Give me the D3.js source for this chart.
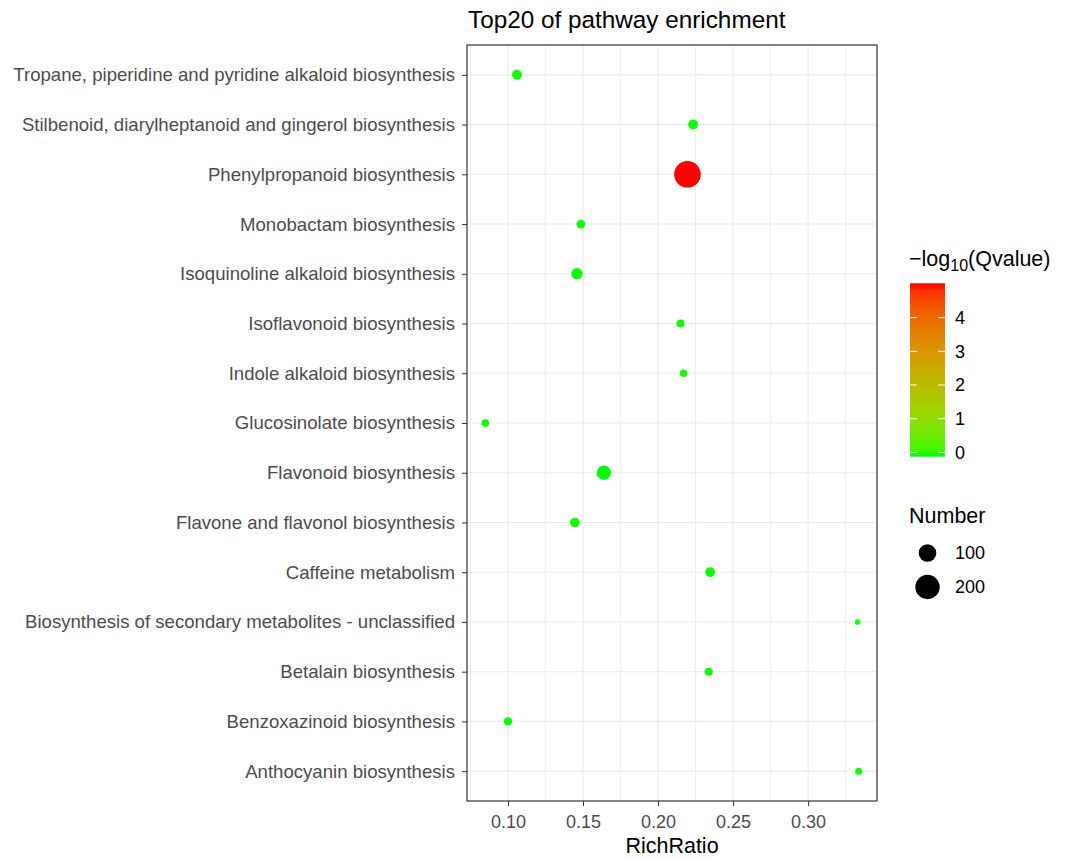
<!DOCTYPE html>
<html lang="en">
<head>
  <meta charset="UTF-8">
  <title>Top20 of pathway enrichment</title>
  <script src="https://d3js.org/d3.v7.min.js"></script>
  <style>
    body { margin: 0; background: #fff; }
    text { font-family: "Liberation Sans", Arial, sans-serif; }
    .grid line { stroke: #ebebeb; stroke-width: 1.1px; }
    .axis text { fill: #4d4d4d; font-size: 18.6px; }
    .axis line { stroke: #333; }
  </style>
</head>
<body>
  <svg width="1066" height="859"></svg>
  <script>
    // pathways, bottom to top as in the chart
    const pathways = [
      "Anthocyanin biosynthesis",
      "Benzoxazinoid biosynthesis",
      "Betalain biosynthesis",
      "Biosynthesis of secondary metabolites - unclassified",
      "Caffeine metabolism",
      "Flavone and flavonol biosynthesis",
      "Flavonoid biosynthesis",
      "Glucosinolate biosynthesis",
      "Indole alkaloid biosynthesis",
      "Isoflavonoid biosynthesis",
      "Isoquinoline alkaloid biosynthesis",
      "Monobactam biosynthesis",
      "Phenylpropanoid biosynthesis",
      "Stilbenoid, diarylheptanoid and gingerol biosynthesis",
      "Tropane, piperidine and pyridine alkaloid biosynthesis"
    ];
    const richRatio = [0.3337, 0.100, 0.2338, 0.333, 0.2347, 0.1446, 0.1639, 0.0849, 0.217, 0.215, 0.146, 0.1486, 0.2196, 0.2234, 0.106];
    const number = [32, 34, 34, 31, 39, 39, 68, 33, 33, 34, 47, 36, 242, 40, 40];
    const qvalue = [0.02, 0.01, 0.02, 0.03, 0.01, 0.02, 0.00, 0.02, 0.03, 0.02, 0.01, 0.02, 4.89, 0.01, 0.02];
    const xTicks = [0.10, 0.15, 0.20, 0.25, 0.30];
    const colorTicks = [0, 1, 2, 3, 4];
    const sizeLegend = [100, 200];

    const svg = d3.select("svg");
    const pLeft = 467, pRight = 877, pTop = 45, pBottom = 801;

    const x = d3.scaleLinear().domain([0.0727, 0.3459]).range([pLeft, pRight]);
    const y = d3.scalePoint().domain(pathways).range([pBottom, pTop]).padding(0.6);

    const qExt = [d3.min(qvalue), d3.max(qvalue)];
    const color = d3.scaleLinear().domain(qExt).range(["#00ff00", "#ff0000"]).interpolate(d3.interpolateLab);

    // ggplot-like area scale: radius grows with sqrt of rescaled count
    const nExt = [d3.min(number), d3.max(number)];
    const frac = d3.scaleLinear().domain(nExt).range([0, 1]);
    const rad = n => 2.8 + 10.5 * Math.sqrt(Math.max(0, frac(n)));

    // grid
    const grid = svg.append("g").attr("class", "grid");
    const minor = xTicks.map(t => t - 0.025).concat([0.325]);
    grid.selectAll(".minor").data(minor).enter().append("line")
      .attr("x1", d => x(d)).attr("x2", d => x(d)).attr("y1", pTop).attr("y2", pBottom)
      .style("stroke-width", "0.8px");
    grid.selectAll(".major").data(xTicks).enter().append("line")
      .attr("x1", d => x(d)).attr("x2", d => x(d)).attr("y1", pTop).attr("y2", pBottom);
    grid.selectAll(".hy").data(pathways).enter().append("line")
      .attr("x1", pLeft).attr("x2", pRight).attr("y1", d => y(d)).attr("y2", d => y(d));

    // points
    const rows = pathways.map((p, i) => ({ p, r: richRatio[i], n: number[i], q: qvalue[i] }));
    svg.append("g").selectAll("circle").data(rows).enter().append("circle")
      .attr("cx", d => x(d.r)).attr("cy", d => y(d.p))
      .attr("r", d => rad(d.n))
      .attr("fill", d => color(d.q));

    // panel border
    svg.append("rect").attr("x", pLeft).attr("y", pTop)
      .attr("width", pRight - pLeft).attr("height", pBottom - pTop)
      .attr("fill", "none").attr("stroke", "#333").attr("stroke-width", 1.2);

    // axes
    const xAxis = svg.append("g").attr("class", "axis")
      .attr("transform", `translate(0,${pBottom})`)
      .call(d3.axisBottom(x).tickValues(xTicks).tickFormat(d3.format(".2f")).tickSize(5).tickPadding(9));
    xAxis.select(".domain").remove();
    xAxis.selectAll("text").style("font-size", "18px");

    const yAxis = svg.append("g").attr("class", "axis")
      .attr("transform", `translate(${pLeft},0)`)
      .call(d3.axisLeft(y).tickSize(5).tickPadding(7));
    yAxis.select(".domain").remove();

    svg.append("text").attr("x", pLeft + 1).attr("y", 28)
      .style("font-size", "24.3px").style("fill", "#000").text("Top20 of pathway enrichment");
    svg.append("text").attr("x", (pLeft + pRight) / 2).attr("y", 853)
      .attr("text-anchor", "middle").style("font-size", "21.5px").text("RichRatio");

    // colour legend
    const lg = svg.append("g");
    const t1 = lg.append("text").attr("x", 909).attr("y", 266).style("font-size", "21.5px");
    t1.append("tspan").text("\u2212log");
    t1.append("tspan").attr("dy", 5).style("font-size", "16px").text("10");
    t1.append("tspan").attr("dy", -5).text("(Qvalue)");

    const barTop = 283.3, barBottom = 456.7, barX = 910, barW = 35;
    const half = (barBottom - barTop) / 40;
    const cy = d3.scaleLinear().domain(qExt).range([barBottom - half, barTop + half]);
    const grad = svg.append("defs").append("linearGradient").attr("id", "qgrad")
      .attr("x1", 0).attr("x2", 0).attr("y1", 1).attr("y2", 0);
    d3.range(0, 1.0001, 0.05).forEach(s => {
      grad.append("stop").attr("offset", s)
        .attr("stop-color", color(qExt[0] + (qExt[1] - qExt[0]) * s));
    });
    lg.append("rect").attr("x", barX).attr("y", barTop).attr("width", barW)
      .attr("height", barBottom - barTop).attr("fill", "url(#qgrad)");
    colorTicks.forEach(t => {
      lg.append("line").attr("x1", barX).attr("x2", barX + 7).attr("y1", cy(t)).attr("y2", cy(t))
        .attr("stroke", "#fff").attr("stroke-width", 1);
      lg.append("line").attr("x1", barX + barW - 7).attr("x2", barX + barW).attr("y1", cy(t)).attr("y2", cy(t))
        .attr("stroke", "#fff").attr("stroke-width", 1);
      lg.append("text").attr("x", barX + barW + 10).attr("y", cy(t)).attr("dy", "0.35em")
        .style("font-size", "18px").style("fill", "#000").text(t);
    });

    // size legend
    lg.append("text").attr("x", 909).attr("y", 523).style("font-size", "21.5px").text("Number");
    sizeLegend.forEach((n, i) => {
      const yy = 553 + i * 34;
      lg.append("circle").attr("cx", 927.5).attr("cy", yy).attr("r", rad(n)).attr("fill", "#000");
      lg.append("text").attr("x", 955).attr("y", yy).attr("dy", "0.35em")
        .style("font-size", "18px").text(n);
    });
  </script>
</body>
</html>
